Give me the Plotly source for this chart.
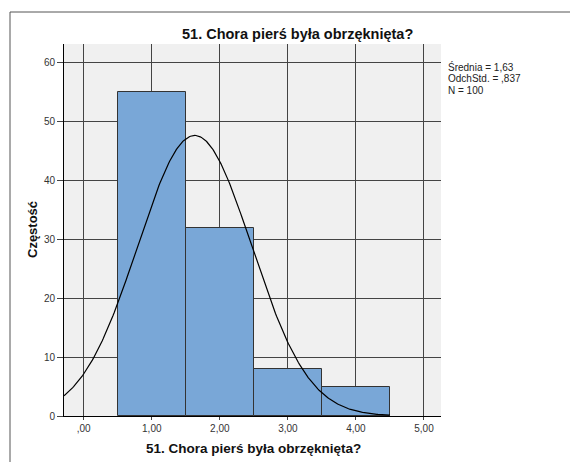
import numpy as np
import plotly.graph_objects as go

# Data
categories = [1, 2, 3, 4]
counts = [55, 32, 8, 5]
mean_val = 1.63
sd_val = 0.837
n_val = 100
bin_width = 1.0
x_tick_vals = [0, 1, 2, 3, 4, 5]
x_tick_text = [",00", "1,00", "2,00", "3,00", "4,00", "5,00"]
y_tick_vals = [0, 10, 20, 30, 40, 50, 60]
title_text = "51. Chora pierś była obrzęknięta?"
stats_lines = ["Średnia = 1,63", "OdchStd. = ,837", "N = 100"]

X_RANGE = [-0.29, 5.25]
Y_RANGE = [0, 63.2]

# Fitted normal curve from the reported statistics
cx = np.linspace(X_RANGE[0], 4.5, 300)
cy = n_val * bin_width / (sd_val * np.sqrt(2 * np.pi)) * np.exp(-0.5 * ((cx - mean_val) / sd_val) ** 2)

fig = go.Figure()
fig.add_trace(go.Bar(
    x=categories, y=counts, width=1.0,
    marker=dict(color="#79A7D7", line=dict(color="#333333", width=1)),
    hoverinfo="x+y",
))
fig.add_trace(go.Scatter(
    x=cx, y=cy, mode="lines",
    line=dict(color="#000000", width=1.2),
    hoverinfo="skip",
))

W, H = 570, 462
L, R, T, B = 64, 129, 44, 46
pw = W - L - R
ph = H - T - B


def py(ypix):
    return (H - B - ypix) / ph


def px(xpix):
    return (xpix - L) / pw


annotations = [
    dict(text="<b>" + title_text + "</b>", xref="paper", yref="paper", x=px(297), y=py(34),
         xanchor="center", yanchor="middle", showarrow=False,
         font=dict(size=14.5, color="#111111", family="Liberation Sans, Arial, sans-serif")),
    dict(text="<b>" + title_text + "</b>", xref="paper", yref="paper", x=px(253),
         y=py(449), xanchor="center", yanchor="middle", showarrow=False,
         font=dict(size=13.5, color="#111111")),
    dict(text="<b>Częstość</b>", xref="paper", yref="paper",
         x=px(32), y=py(230), xanchor="center", yanchor="middle",
         textangle=-90, showarrow=False, font=dict(size=13, color="#111111")),
]
for i, line in enumerate(stats_lines):
    annotations.append(dict(text=line, xref="paper", yref="paper",
                            x=px(446), y=py(67 + 11.5 * i), xanchor="left", yanchor="middle",
                            showarrow=False, font=dict(size=10, color="#222222")))

fig.update_layout(
    width=W, height=H,
    margin=dict(l=L, r=R, t=T, b=B),
    paper_bgcolor="white",
    plot_bgcolor="#F0F0F0",
    showlegend=False,
    bargap=0,
    font=dict(family="Liberation Sans, Arial, sans-serif", color="#222222", size=10),
    xaxis=dict(
        range=X_RANGE, tickvals=x_tick_vals, ticktext=x_tick_text,
        showgrid=True, gridcolor="#444444", gridwidth=1,
        zeroline=False, showline=True, linecolor="#000000", linewidth=1,
        ticks="outside", ticklen=3, tickcolor="#444444",
        tickfont=dict(size=10, color="#333333"),
    ),
    yaxis=dict(
        range=Y_RANGE, tickvals=y_tick_vals,
        showgrid=True, gridcolor="#444444", gridwidth=1,
        zeroline=False, showline=True, linecolor="#000000", linewidth=1,
        ticks="outside", ticklen=6, tickcolor="#444444",
        tickfont=dict(size=10, color="#333333"),
    ),
    annotations=annotations,
    shapes=[
        dict(type="rect", xref="paper", yref="paper",
             x0=px(10), x1=2.0, y0=-1.0, y1=py(12),
             line=dict(color="#555555", width=1), fillcolor="rgba(0,0,0,0)", layer="below"),
    ],
)

fig.write_html("out.html", config={"displayModeBar": False},
               post_script="document.body.style.margin='0';document.body.style.overflow='hidden';")
